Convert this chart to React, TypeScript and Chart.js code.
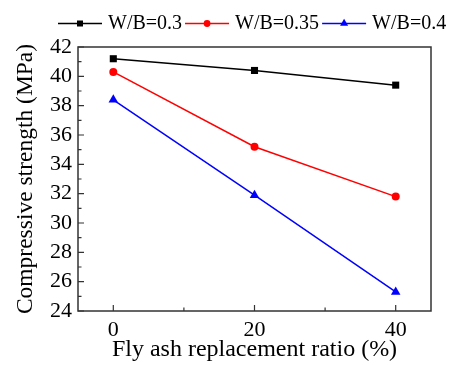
import React, { useEffect, useRef } from 'react';
import { Chart, registerables } from 'chart.js';

Chart.register(...registerables);

const xValues = [0, 20, 40];
const seriesLabels = ['W/B=0.3', 'W/B=0.35', 'W/B=0.4'];
const wb030 = [41.2, 40.4, 39.4];
const wb035 = [40.3, 35.2, 31.8];
const wb040 = [38.4, 31.9, 25.3];
const xTickValues = [0, 20, 40];
const xMinorTickValues = [10, 30];
const yTickValues = [24, 26, 28, 30, 32, 34, 36, 38, 40, 42];
const yMinorTickValues = [25, 27, 29, 31, 33, 35, 37, 39, 41];
const xAxisTitle = 'Fly ash replacement ratio (%)';
const yAxisTitle = 'Compressive strength (MPa)';

const seriesValues = [wb030, wb035, wb040];
const seriesColors = ['#000000', '#ff0000', '#0000ff'];
const seriesPointStyles = ['rect', 'circle', 'triangle'];
const seriesPointRadius = [5, 4, 5.5];
const FONT = "'Liberation Serif', 'Times New Roman', serif";

function drawMarker(ctx: CanvasRenderingContext2D, style: string, x: number, y: number, r: number, color: string) {
  ctx.save();
  ctx.fillStyle = color;
  ctx.beginPath();
  if (style === 'rect') {
    const s = r * Math.SQRT1_2;
    ctx.rect(x - s, y - s, 2 * s, 2 * s);
  } else if (style === 'circle') {
    ctx.arc(x, y, r, 0, Math.PI * 2);
  } else {
    const w = r * Math.sin((2 * Math.PI) / 3);
    ctx.moveTo(x, y - r);
    ctx.lineTo(x + w, y + r / 2);
    ctx.lineTo(x - w, y + r / 2);
    ctx.closePath();
  }
  ctx.fill();
  ctx.restore();
}

const frameAndLegendPlugin = {
  id: 'frameAndLegend',
  afterDatasetsDraw(chart: any) {
    const { ctx, chartArea: a, scales } = chart;
    const xs = scales.x;
    const ys = scales.y;
    ctx.save();
    ctx.strokeStyle = '#333333';
    ctx.lineWidth = 1.5;
    ctx.strokeRect(a.left, a.top, a.right - a.left, a.bottom - a.top);
    ctx.lineWidth = 1.2;
    ctx.beginPath();
    yTickValues.forEach((v) => {
      const p = ys.getPixelForValue(v);
      ctx.moveTo(a.left, p);
      ctx.lineTo(a.left + 6, p);
    });
    yMinorTickValues.forEach((v) => {
      const p = ys.getPixelForValue(v);
      ctx.moveTo(a.left, p);
      ctx.lineTo(a.left + 3.5, p);
    });
    xTickValues.forEach((v) => {
      const p = xs.getPixelForValue(v);
      ctx.moveTo(p, a.bottom);
      ctx.lineTo(p, a.bottom - 6);
    });
    xMinorTickValues.forEach((v) => {
      const p = xs.getPixelForValue(v);
      ctx.moveTo(p, a.bottom);
      ctx.lineTo(p, a.bottom - 3.5);
    });
    ctx.stroke();
    ctx.restore();
  },
  afterDraw(chart: any) {
    const { ctx } = chart;
    ctx.save();
    ctx.font = `20px ${FONT}`;
    ctx.textBaseline = 'middle';
    ctx.textAlign = 'left';
    let x = 58;
    const y = 23.5;
    chart.data.datasets.forEach((ds: any, i: number) => {
      ctx.strokeStyle = seriesColors[i];
      ctx.lineWidth = 1.5;
      ctx.beginPath();
      ctx.moveTo(x, y);
      ctx.lineTo(x + 44, y);
      ctx.stroke();
      drawMarker(ctx, seriesPointStyles[i], x + 22, y, seriesPointRadius[i] * 0.85, seriesColors[i]);
      ctx.fillStyle = '#000000';
      ctx.fillText(ds.label, x + 50, y);
      x += 50 + ctx.measureText(ds.label).width + 3;
    });
    ctx.restore();
  },
};

export default function App() {
  const canvasRef = useRef<HTMLCanvasElement | null>(null);

  useEffect(() => {
    if (!canvasRef.current) return;
    const chart = new Chart(canvasRef.current, {
      type: 'line',
      data: {
        datasets: seriesValues.map((vals, i) => ({
          label: seriesLabels[i],
          data: xValues.map((x, j) => ({ x, y: vals[j] })),
          borderColor: seriesColors[i],
          backgroundColor: seriesColors[i],
          borderWidth: 1.5,
          pointStyle: seriesPointStyles[i] as any,
          pointRadius: seriesPointRadius[i],
          pointBorderWidth: 0,
          pointBackgroundColor: seriesColors[i],
          tension: 0,
          fill: false,
        })),
      },
      options: {
        responsive: false,
        animation: false,
        devicePixelRatio: 1,
        layout: { padding: { top: 47, right: 24, bottom: 0, left: 0 } },
        plugins: {
          legend: { display: false },
          tooltip: { enabled: false },
        },
        scales: {
          x: {
            type: 'linear',
            min: -5,
            max: 45,
            afterBuildTicks: (s: any) => {
              s.ticks = xTickValues.map((v) => ({ value: v }));
            },
            afterFit: (s: any) => {
              s.height = 54;
            },
            grid: { display: false, drawTicks: false },
            border: { display: false },
            ticks: {
              padding: 6,
              autoSkip: false,
              color: '#000000',
              font: { family: FONT, size: 22 },
              maxRotation: 0,
            },
            title: {
              display: true,
              text: xAxisTitle,
              color: '#000000',
              font: { family: FONT, size: 24 },
              padding: { top: 0, bottom: 1 },
            },
          },
          y: {
            type: 'linear',
            min: 24,
            max: 42,
            afterBuildTicks: (s: any) => {
              s.ticks = yTickValues.map((v) => ({ value: v }));
            },
            afterFit: (s: any) => {
              s.width = 78;
            },
            grid: { display: false, drawTicks: false },
            border: { display: false },
            ticks: {
              padding: 6,
              autoSkip: false,
              color: '#000000',
              font: { family: FONT, size: 22 },
            },
            title: {
              display: true,
              text: yAxisTitle,
              color: '#000000',
              font: { family: FONT, size: 23.5 },
              padding: { top: 12, bottom: 0 },
            },
          },
        },
      },
      plugins: [frameAndLegendPlugin],
    });
    return () => chart.destroy();
  }, []);

  return (
    <div style={{ position: 'absolute', left: 0, top: 0, width: 455, height: 365, background: '#ffffff' }}>
      <canvas ref={canvasRef} width={455} height={365} style={{ display: 'block' }} />
    </div>
  );
}
